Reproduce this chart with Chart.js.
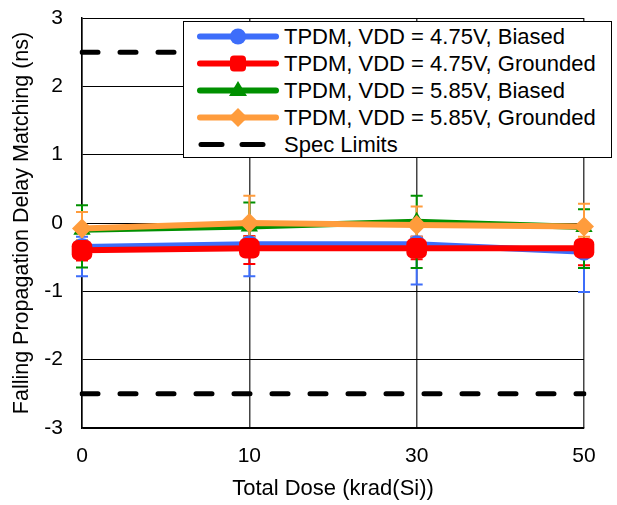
<!DOCTYPE html>
<html>
<head>
<meta charset="utf-8">
<script src="https://cdn.jsdelivr.net/npm/chart.js@4.4.1/dist/chart.umd.min.js"></script>
<style>
  html, body { margin: 0; padding: 0; background: #fff; }
  #wrap { position: relative; width: 617px; height: 505px; font-family: "Liberation Sans", Arial, sans-serif; }
  #legend {
    position: absolute; left: 183px; top: 21px; width: 427px; height: 135px;
    border: 1px solid #000; background: #fff; box-sizing: content-box;
  }
  .row { position: absolute; left: 0; height: 27px; display: flex; align-items: center; font-size: 22px; color: #000; white-space: nowrap; }
  .row svg { width: 100px; height: 27px; flex: none; }
</style>
</head>
<body>
<div id="wrap">
  <canvas id="c" width="617" height="505"></canvas>
  <div id="legend"></div>
</div>
<script>
// dose levels (krad(Si))
var doses = ['0', '10', '30', '50'];
var yTicks = [-3, -2, -1, 0, 1, 2, 3];

var names = [
  'TPDM, VDD = 4.75V, Biased',
  'TPDM, VDD = 4.75V, Grounded',
  'TPDM, VDD = 5.85V, Biased',
  'TPDM, VDD = 5.85V, Grounded',
  'Spec Limits'
];

// mean values (ns) and error bar ends
var biased475 = [-0.35, -0.31, -0.31, -0.42];
var biased475Hi = [-0.20, -0.20, -0.20, -0.26];
var biased475Lo = [-0.78, -0.78, -0.90, -1.01];

var grounded475 = [-0.40, -0.37, -0.37, -0.37];
var grounded475Hi = [-0.25, -0.19, -0.20, -0.25];
var grounded475Lo = [-0.55, -0.60, -0.53, -0.62];

var biased585 = [-0.10, -0.05, 0.02, -0.06];
var biased585Hi = [0.26, 0.30, 0.40, 0.20];
var biased585Lo = [-0.65, -0.30, -0.66, -0.66];

var grounded585 = [-0.08, 0.00, -0.03, -0.05];
var grounded585Hi = [0.16, 0.40, 0.24, 0.28];
var grounded585Lo = [-0.25, -0.20, -0.20, -0.20];

var specHigh = [2.5, 2.5, 2.5, 2.5];
var specLow = [-2.5, -2.5, -2.5, -2.5];

var BLUE = '#3d6dfa';
var RED = '#ff0000';
var GREEN = '#009000';
var ORANGE = '#ff9c3c';

function series(label, data, color, style, radius, order, hi, lo) {
  return {
    label: label, data: data, borderColor: color, backgroundColor: color,
    borderWidth: 6, pointStyle: style, pointRadius: radius, pointHoverRadius: radius,
    pointBorderWidth: 0, order: order, errHi: hi, errLo: lo, tension: 0
  };
}

function spec(data) {
  return {
    label: 'Spec Limits', data: data, borderColor: '#000', borderWidth: 5,
    borderDash: [16, 22], borderCapStyle: 'round', pointRadius: 0, order: 6, fill: false
  };
}

// error bars under the markers
var errorBars = {
  id: 'errorBars',
  beforeDatasetsDraw: function(chart) {
    var ctx = chart.ctx, y = chart.scales.y;
    ctx.save();
    chart.data.datasets.forEach(function(ds, i) {
      if (!ds.errHi) return;
      var meta = chart.getDatasetMeta(i);
      ctx.strokeStyle = ds.borderColor;
      ctx.lineWidth = 2;
      meta.data.forEach(function(pt, j) {
        var top = y.getPixelForValue(ds.errHi[j]);
        var bot = y.getPixelForValue(ds.errLo[j]);
        ctx.beginPath();
        ctx.moveTo(pt.x, top); ctx.lineTo(pt.x, bot);
        ctx.moveTo(pt.x - 6, top); ctx.lineTo(pt.x + 6, top);
        ctx.moveTo(pt.x - 6, bot); ctx.lineTo(pt.x + 6, bot);
        ctx.stroke();
      });
    });
    ctx.restore();
  }
};

Chart.defaults.font.family = '"Liberation Sans", Arial, sans-serif';
Chart.defaults.color = '#000';

new Chart(document.getElementById('c'), {
  type: 'line',
  data: {
    labels: doses,
    datasets: [
      series(names[0], biased475, BLUE, 'circle', 9, 4, biased475Hi, biased475Lo),
      series(names[1], grounded475, RED, 'rectRounded', 12, 3, grounded475Hi, grounded475Lo),
      series(names[2], biased585, GREEN, 'triangle', 10, 2, biased585Hi, biased585Lo),
      series(names[3], grounded585, ORANGE, 'rectRot', 10, 1, grounded585Hi, grounded585Lo),
      spec(specHigh),
      spec(specLow)
    ]
  },
  options: {
    responsive: false,
    animation: false,
    events: [],
    layout: { padding: { top: 18, right: 33, left: 0, bottom: 0 } },
    plugins: { legend: { display: false }, tooltip: { enabled: false } },
    scales: {
      x: {
        offset: false,
        afterFit: function(s) { s.height = 77; },
        grid: { color: '#444', lineWidth: 1.5, drawTicks: true, tickLength: 16, tickColor: 'rgba(0,0,0,0)' },
        border: { color: '#000', width: 1.5 },
        ticks: { font: { size: 21 }, padding: 0, maxRotation: 0 },
        title: { display: true, text: 'Total Dose (krad(Si))', font: { size: 22 }, padding: { top: 4, bottom: 3 } }
      },
      y: {
        min: -3, max: 3,
        afterFit: function(s) { s.width = 82; },
        afterBuildTicks: function(s) { s.ticks = yTicks.map(function(v) { return { value: v }; }); },
        grid: { color: '#000', lineWidth: 1, drawTicks: true, tickLength: 19, tickColor: 'rgba(0,0,0,0)' },
        border: { color: '#000', width: 1.5 },
        ticks: { font: { size: 21 }, padding: 0 },
        title: { display: true, text: 'Falling Propagation Delay Matching (ns)', font: { size: 21.5 }, padding: { top: 9, bottom: 4 } }
      }
    }
  },
  plugins: [errorBars]
});

// legend box
var legendItems = [
  { color: BLUE, mark: 'circle' },
  { color: RED, mark: 'square' },
  { color: GREEN, mark: 'triangle' },
  { color: ORANGE, mark: 'diamond' },
  { color: '#000', mark: 'dash' }
];
var legend = document.getElementById('legend');
legendItems.forEach(function(it, i) {
  var m = '';
  if (it.mark === 'dash') {
    m = '<line x1="17" y1="13.5" x2="38" y2="13.5" stroke="#000" stroke-width="5" stroke-linecap="round"/>' +
        '<line x1="58" y1="13.5" x2="79" y2="13.5" stroke="#000" stroke-width="5" stroke-linecap="round"/>';
  } else {
    m = '<line x1="16" y1="13.5" x2="92" y2="13.5" stroke="' + it.color + '" stroke-width="6" stroke-linecap="round"/>';
    if (it.mark === 'circle') m += '<circle cx="54" cy="13.5" r="8" fill="' + it.color + '"/>';
    if (it.mark === 'square') m += '<rect x="46" y="5.5" width="16" height="16" rx="4" fill="' + it.color + '"/>';
    if (it.mark === 'triangle') m += '<polygon points="54,4 63,19 45,19" fill="' + it.color + '"/>';
    if (it.mark === 'diamond') m += '<polygon points="54,4 63.5,13.5 54,23 44.5,13.5" fill="' + it.color + '"/>';
  }
  var row = document.createElement('div');
  row.className = 'row';
  row.style.top = (i * 27 + 1) + 'px';
  row.innerHTML = '<svg viewBox="0 0 100 27">' + m + '</svg><span>' + names[i] + '</span>';
  legend.appendChild(row);
});
</script>
</body>
</html>
